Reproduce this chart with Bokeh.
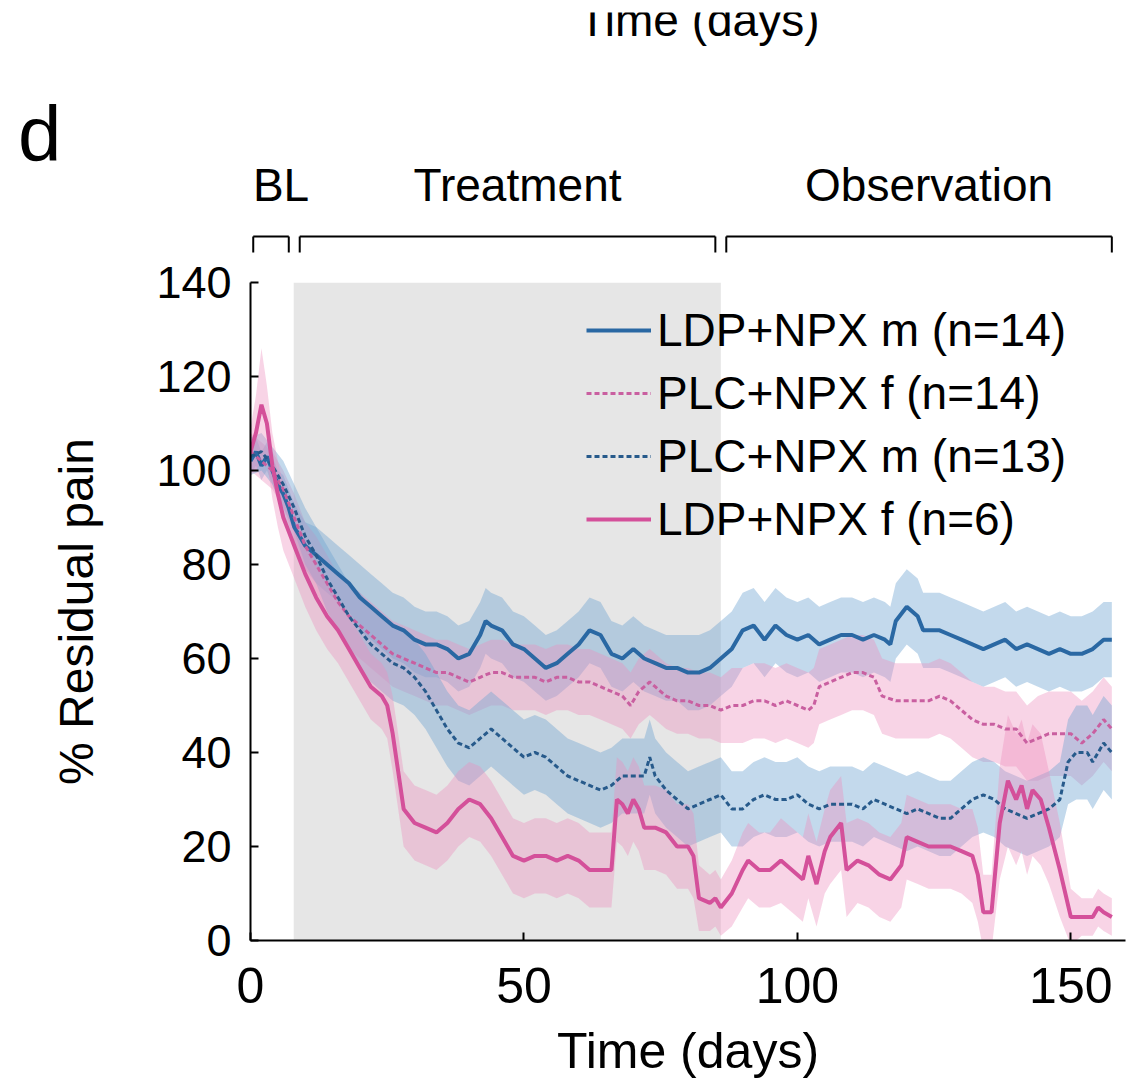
from bokeh.plotting import figure
from bokeh.layouts import column
from bokeh.models import (Range1d, FixedTicker, Legend, LegendItem, BoxAnnotation,
                          ColumnDataSource, LinearAxis)
from bokeh.core.properties import value
from bokeh.embed import file_html
from bokeh.resources import INLINE

# ---------------- data ----------------
x_ticks = [0, 50, 100, 150]
y_ticks = [0, 20, 40, 60, 80, 100, 120, 140]
treatment_shade = [7.9, 86]

phase_names = ["BL", "Treatment", "Observation"]
phase_start = [0.5, 9, 87]
phase_end = [7, 85, 157.5]

# LDP+NPX m (n=14)
ldp_m_days = [0, 1, 2, 3, 4, 5, 6, 7, 8, 9,
              10, 12, 14, 16, 18, 20, 22, 24, 26, 28,
              30, 32, 34, 36, 38, 40, 42, 43, 44, 46,
              48, 50, 52, 54, 56, 58, 60, 62, 64, 66,
              68, 70, 72, 74, 76, 78, 80, 82, 84, 86,
              88, 90, 92, 94, 96, 98, 100, 102, 104, 106,
              108, 110, 112, 114, 116, 117, 118, 120, 122, 123,
              126, 128, 130, 132, 134, 136, 138, 140, 142, 144,
              146, 148, 150, 152, 154, 156, 157.5]
ldp_m_mean = [102, 104, 101, 103, 100, 97, 95, 92, 88, 86,
              84, 82, 80, 78, 76, 73, 71, 69, 67, 66,
              64, 63, 63, 62, 60, 61, 65, 68, 67, 66,
              63, 62, 60, 58, 59, 61, 63, 66, 65, 61,
              60, 62, 60, 59, 58, 58, 57, 57, 58, 60,
              62, 66, 67, 64, 67, 65, 64, 65, 63, 64,
              65, 65, 64, 65, 64, 63, 68, 71, 69, 66,
              66, 65, 64, 63, 62, 63, 64, 62, 63, 62,
              61, 62, 61, 61, 62, 64, 64]
ldp_m_sem = [3, 3, 3, 3, 3, 3, 4, 4, 5, 5,
             5, 6, 6, 6, 6, 7, 7, 7, 7, 7,
             7, 7, 7, 7, 7, 7, 7, 7, 7, 7,
             7, 7, 7, 7, 7, 7, 7, 7, 7, 7,
             7, 7, 7, 7, 7, 7, 8, 8, 8, 8,
             8, 8, 8, 8, 8, 8, 8, 8, 8, 8,
             8, 8, 8, 8, 8, 8, 8, 8, 8, 8,
             8, 8, 8, 8, 8, 8, 8, 8, 8, 8,
             8, 8, 8, 8, 8, 8, 8]

# PLC+NPX f (n=14)
plc_f_days = [0, 2, 4, 6, 8, 10, 12, 14, 16, 18,
              20, 22, 24, 26, 28, 30, 32, 34, 36, 38,
              40, 42, 44, 46, 48, 50, 52, 54, 56, 58,
              60, 62, 64, 66, 68, 69.5, 71, 73, 74, 76,
              78, 80, 82, 84, 86, 88, 90, 92, 94, 96,
              98, 100, 102, 103, 104, 106, 108, 110, 112, 114,
              115.5, 118, 120, 122, 124, 126, 128, 130, 132, 134,
              136, 138, 140, 142, 144, 146, 148, 150, 152, 154,
              156, 157.5]
plc_f_mean = [104, 102, 100, 96, 90, 84, 80, 76, 72, 69,
              67, 65, 63, 61, 60, 59, 58, 57, 57, 56,
              55, 56, 57, 57, 56, 56, 56, 55, 56, 56,
              55, 55, 54, 53, 52, 50, 53, 55, 54, 52,
              51, 51, 50, 50, 49, 50, 50, 51, 51, 50,
              51, 50, 49, 50, 54, 55, 56, 57, 57, 56,
              52, 51, 51, 51, 51, 52, 51, 49, 47, 46,
              46, 45, 45, 42, 43, 44, 44, 44, 42, 44,
              47, 45]
plc_f_sem = [4, 4, 4, 4, 5, 5, 6, 6, 6, 7,
             7, 7, 7, 7, 7, 7, 7, 7, 7, 7,
             7, 7, 7, 7, 7, 7, 7, 7, 7, 7,
             7, 7, 7, 7, 7, 7, 7, 7, 7, 7,
             7, 7, 7, 7, 7, 8, 8, 8, 8, 8,
             8, 8, 8, 8, 8, 8, 8, 8, 8, 8,
             8, 8, 8, 8, 8, 8, 8, 8, 8, 8,
             8, 8, 8, 8, 9, 9, 9, 9, 9, 9,
             9, 9]

# PLC+NPX m (n=13)
plc_m_days = [0, 2, 4, 6, 8, 10, 12, 14, 16, 18,
              20, 22, 24, 26, 28, 30, 32, 34, 36, 38,
              40, 42, 44, 46, 48, 50, 52, 54, 56, 58,
              60, 62, 64, 66, 68, 70, 72, 73, 74, 76,
              78, 80, 82, 84, 86, 88, 90, 92, 94, 96,
              98, 100, 102, 104, 106, 108, 110, 112, 114, 116,
              118, 120, 122, 124, 126, 128, 130, 132, 134, 136,
              138, 140, 142, 144, 146, 148, 149.5, 151, 153, 154,
              156, 157.5]
plc_m_mean = [103, 104, 101, 97, 92, 86, 82, 77, 73, 69,
              66, 63, 61, 59, 58, 56, 53, 49, 45, 42,
              41, 43, 45, 43, 41, 39, 40, 39, 37, 35,
              34, 33, 32, 33, 35, 35, 35, 39, 35, 32,
              30, 28, 29, 30, 31, 28, 28, 30, 31, 30,
              30, 31, 29, 28, 29, 29, 29, 28, 30, 29,
              28, 27, 28, 27, 26, 26, 28, 30, 31, 30,
              28, 27, 26, 27, 28, 30, 38, 40, 40, 38,
              42, 40]
plc_m_sem = [4, 4, 4, 5, 5, 6, 6, 7, 7, 7,
             8, 8, 8, 8, 8, 8, 8, 8, 8, 8,
             8, 8, 8, 8, 8, 8, 8, 8, 8, 8,
             8, 8, 8, 8, 8, 8, 8, 8, 8, 8,
             8, 8, 8, 8, 8, 8, 8, 8, 8, 8,
             8, 8, 8, 8, 8, 8, 8, 8, 8, 8,
             8, 8, 8, 8, 8, 8, 8, 8, 8, 8,
             8, 8, 8, 8, 8, 8, 9, 10, 10, 10,
             10, 10]

# LDP+NPX f (n=6)
ldp_f_days = [0, 1, 2, 3, 4, 5, 6, 7, 8, 10,
              12, 14, 16, 18, 20, 22, 24, 25, 26, 27,
              28, 30, 32, 34, 36, 38, 40, 42, 44, 46,
              48, 50, 52, 54, 56, 58, 60, 62, 64, 66,
              67, 68, 69, 70, 71, 72, 74, 76, 78, 80,
              81, 82, 84, 85, 86, 88, 90, 91, 93, 95,
              97, 99, 101, 102, 103.5, 105, 106, 108, 109, 111,
              113, 115, 117, 119, 120, 122, 124, 126, 128, 130,
              132, 133, 134, 135.5, 137, 138.5, 140, 141, 142, 143,
              144.5, 146, 148, 150, 152, 154, 155, 156, 157.5]
ldp_f_mean = [104, 108, 114, 110, 101, 95, 90, 87, 84, 78,
              73, 69, 66, 62, 58, 54, 52, 50, 44, 36,
              28, 25, 24, 23, 25, 28, 30, 29, 26, 22,
              18, 17, 18, 18, 17, 18, 17, 15, 15, 15,
              30, 29, 27, 30, 28, 24, 24, 23, 20, 20,
              18, 9, 8, 9, 7, 10, 15, 17, 15, 15,
              17, 15, 13, 18, 12, 19, 22, 25, 15, 17,
              16, 14, 13, 16, 22, 21, 20, 20, 20, 19,
              18, 14, 6, 6, 25, 34, 30, 33, 28, 32,
              30, 24, 15, 5, 5, 5, 7, 6, 5]
ldp_f_sem = [5, 8, 12, 8, 7, 7, 7, 7, 7, 7,
             7, 7, 7, 7, 7, 7, 7, 7, 8, 8,
             8, 8, 8, 8, 8, 8, 8, 8, 8, 8,
             8, 8, 8, 8, 8, 8, 8, 8, 8, 8,
             9, 9, 9, 9, 9, 9, 9, 9, 9, 9,
             9, 7, 6, 6, 6, 7, 8, 8, 8, 8,
             9, 9, 9, 9, 9, 9, 10, 10, 10, 9,
             9, 9, 9, 9, 9, 9, 9, 9, 9, 9,
             10, 10, 8, 8, 12, 14, 14, 14, 14, 14,
             14, 12, 10, 6, 4, 4, 4, 4, 4]

series_labels = ["LDP+NPX m (n=14)", "PLC+NPX f (n=14)", "PLC+NPX m (n=13)", "LDP+NPX f (n=6)"]

# ---------------- styling / layout ----------------
FONT = "Liberation Sans"
BLUE = "#2a68a3"
BLUE_D = "#275a8b"
PINK = "#d4509a"
PINK_D = "#c95fa0"
BLUE_BAND = "#6fa5d2"
PINK_BAND = "#ec8fbc"

W = 1127
X_LEFT = 250
TOP_H = 254
TOP_CUT = 12
MAIN_H = 1084 - TOP_H

xr = Range1d(0, 160)

# ---------------- main figure ----------------
p = figure(width=W, height=MAIN_H, x_range=xr, y_range=Range1d(0, 140),
           output_backend="svg", toolbar_location=None,
           min_border_left=X_LEFT, min_border_right=2, min_border_top=28,
           min_border_bottom=MAIN_H - 28 - 658)
p.outline_line_color = None
p.grid.visible = False
p.background_fill_color = "white"
p.border_fill_color = "white"

p.add_layout(BoxAnnotation(left=treatment_shade[0], right=treatment_shade[1],
                           fill_color="#e6e6e6", fill_alpha=1.0, line_color=None, level="underlay"))

def make_src(days, mean, sem):
    lo = [m - s for m, s in zip(mean, sem)]
    hi = [m + s for m, s in zip(mean, sem)]
    return ColumnDataSource(dict(x=days, y=mean, lo=lo, hi=hi))

src_ldp_m = make_src(ldp_m_days, ldp_m_mean, ldp_m_sem)
src_plc_f = make_src(plc_f_days, plc_f_mean, plc_f_sem)
src_plc_m = make_src(plc_m_days, plc_m_mean, plc_m_sem)
src_ldp_f = make_src(ldp_f_days, ldp_f_mean, ldp_f_sem)

for src, col, a in [(src_ldp_m, BLUE_BAND, 0.42), (src_plc_f, PINK_BAND, 0.38),
                    (src_plc_m, BLUE_BAND, 0.42), (src_ldp_f, PINK_BAND, 0.38)]:
    p.varea(x="x", y1="lo", y2="hi", source=src, fill_color=col, fill_alpha=a)

r1 = p.line("x", "y", source=src_ldp_m, line_color=BLUE, line_width=4)
r2 = p.line("x", "y", source=src_plc_f, line_color=PINK_D, line_width=3, line_dash="5 3")
r3 = p.line("x", "y", source=src_plc_m, line_color=BLUE_D, line_width=3, line_dash="5 3")
r4 = p.line("x", "y", source=src_ldp_f, line_color=PINK, line_width=4)

legend = Legend(items=[LegendItem(label=lab, renderers=[r]) for lab, r in zip(series_labels, [r1, r2, r3, r4])],
                location=(336, 394), glyph_width=65, glyph_height=20, label_standoff=6,
                spacing=9, padding=0, margin=0, label_text_font=FONT, label_text_font_size="46px",
                label_text_color="black", background_fill_alpha=0, border_line_alpha=0)
p.add_layout(legend)

p.xaxis.ticker = FixedTicker(ticks=x_ticks)
p.yaxis.ticker = FixedTicker(ticks=y_ticks)
for ax in (p.xaxis[0], p.yaxis[0]):
    ax.major_tick_in = 8
    ax.major_tick_out = 0
    ax.minor_tick_in = 0
    ax.minor_tick_out = 0
    ax.axis_line_width = 2
    ax.major_tick_line_width = 2
    ax.axis_line_color = "black"
    ax.major_tick_line_color = "black"
    ax.major_label_text_font = FONT
    ax.axis_label_text_font = FONT
    ax.axis_label_text_font_style = "normal"
    ax.major_label_text_color = "black"
    ax.axis_label_text_color = "black"
p.xaxis.major_label_text_font_size = "50px"
p.yaxis.major_label_text_font_size = "45px"
p.xaxis.axis_label = "Time (days)"
p.xaxis.axis_label_text_font_size = "50px"
p.yaxis.axis_label = "% Residual pain"
p.yaxis.axis_label_text_font_size = "48px"
p.xaxis.major_label_standoff = 27
p.xaxis.axis_label_standoff = 17
p.yaxis.major_label_standoff = 19
p.yaxis.axis_label_standoff = 50

# ---------------- top strip: panel letter, partial title, phase brackets ----------------
top = figure(width=W, height=TOP_H, x_range=xr, y_range=Range1d(0, TOP_H - TOP_CUT),
             x_axis_type=None, y_axis_type=None, output_backend="svg", toolbar_location=None,
             min_border_left=0, min_border_right=0, min_border_top=TOP_CUT, min_border_bottom=0)
top.outline_line_color = None
top.grid.visible = False

# panel letter as a horizontal axis label of an otherwise invisible left axis
letter_axis = LinearAxis(ticker=FixedTicker(ticks=[]), bounds=(0, 224), axis_label="d",
                         axis_label_orientation="horizontal", axis_label_standoff=189,
                         axis_label_text_font=FONT, axis_label_text_font_size="78px",
                         axis_label_text_font_style="normal", axis_label_text_color="black",
                         axis_line_color=None, major_tick_line_color=None,
                         minor_tick_line_color=None, major_label_text_font_size="0px")
top.add_layout(letter_axis, "left")

BR_TOP, BR_BOT = 18, 2
seg_x0, seg_x1, seg_y0, seg_y1 = [], [], [], []
for s, e in zip(phase_start, phase_end):
    seg_x0 += [s, s, e]
    seg_x1 += [e, s, e]
    seg_y0 += [BR_TOP, BR_TOP, BR_TOP]
    seg_y1 += [BR_TOP, BR_BOT, BR_BOT]
top.segment(x0=seg_x0, y0=seg_y0, x1=seg_x1, y1=seg_y1, line_color="black", line_width=2)

phase_mid = [(s + e) / 2 for s, e in zip(phase_start, phase_end)]
top.text(x=phase_mid, y=[70] * len(phase_mid), text=phase_names, text_font=value(FONT),
         text_font_size="46px", text_align="center", text_baseline="middle",
         x_offset=10, text_color="black")
# title of the panel above, cropped at the top edge as in the original figure
top.text(x=[82], y=[235], text=["Time (days)"], text_font=value(FONT), text_font_size="46px",
         text_align="center", text_baseline="middle", text_color="black")

layout = column(top, p, spacing=0)
open("out.html", "w").write(file_html(layout, INLINE))
